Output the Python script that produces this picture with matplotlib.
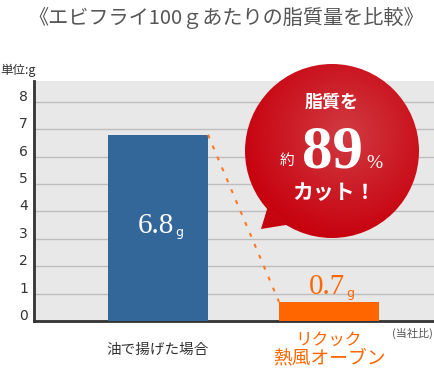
import numpy as np
import matplotlib
matplotlib.use('Agg')
import matplotlib.pyplot as plt
from matplotlib.patches import Circle, Polygon
from matplotlib.transforms import offset_copy

plt.rcParams['font.family'] = ['Noto Sans CJK JP', 'DejaVu Sans']

# データ
title = '《エビフライ100ｇあたりの脂質量を比較》'
categories = ['油で揚げた場合', 'リクック\n熱風オーブン']
values = [6.8, 0.7]
value_labels = ['6.8', '0.7']
value_unit = 'g'
bar_colors = ['#336699', '#ff6600']
yticks = [0, 1, 2, 3, 4, 5, 6, 7, 8]
unit_label = '単位:g'
note = '(当社比)'
cut_percent = '89'

W, H = 434, 368
fig = plt.figure(figsize=(W / 100, H / 100), dpi=100)
ax = fig.add_axes([34 / W, (H - 321) / H, 400 / W, 240 / H])
ax.set_facecolor('#e8e8e8')

x = np.arange(len(values))
bw = 100 / 171
ax.bar(x, values, width=bw, color=bar_colors, zorder=3)
ax.set_xlim(-0.725, 1.614)
ax.set_ylim(0, 8.76)
ax.set_yticks(yticks)
ax.set_yticklabels([])
ax.set_xticks([])
ax.yaxis.grid(True, color='#bdbdbd', lw=1)
ax.set_axisbelow(True)
ax.tick_params(axis='y', length=0)
for s in ['top', 'right']:
    ax.spines[s].set_visible(False)
for s in ['left', 'bottom']:
    ax.spines[s].set_color('#333333')
    ax.spines[s].set_linewidth(2)

# 目盛りラベル（少し上にずらす）
tick_tr = offset_copy(ax.get_yaxis_transform(), fig, x=-6, y=5, units='dots')
for v in yticks:
    ax.text(0, v, str(v), transform=tick_tr, ha='right', va='center',
            fontsize=10, color='#333333', family='DejaVu Sans')

# 点線でつなぐ
ax.plot([x[0] + bw / 2, x[1] - bw / 2], [values[0], values[1]],
        ls=(0, (1.9, 3.8)), color='#ff7722', lw=1.5, zorder=4)

# 値ラベル
label_y = [values[0] * 0.47, values[1] + 0.3]
label_col = ['white', '#ff6600']
for i in range(len(values)):
    t1 = offset_copy(ax.transData, fig, x=16, y=0, units='dots')
    t2 = offset_copy(ax.transData, fig, x=17, y=-3, units='dots')
    ax.text(x[i], label_y[i], value_labels[i], transform=t1, ha='right', va='baseline',
            fontsize=21, color=label_col[i], family='Liberation Serif', zorder=5)
    ax.text(x[i], label_y[i], value_unit, transform=t2, ha='left', va='baseline',
            fontsize=9, color=label_col[i], family='DejaVu Sans', zorder=5)

# カテゴリラベル
xl = ax.get_xaxis_transform()
ax.text(x[0], -0.121, categories[0], transform=xl, ha='center', va='center',
        fontsize=10.5, color='#333333')
l1, l2 = categories[1].split('\n')
ax.text(x[1], -0.079, l1, transform=xl, ha='center', va='center',
        fontsize=12, color='#ff6600')
ax.text(x[1], -0.154, l2, transform=xl, ha='center', va='center',
        fontsize=13.5, color='#ff6600')

# オーバーレイ（ピクセル座標）
ov = fig.add_axes([0, 0, 1, 1], zorder=5)
ov.set_xlim(0, W)
ov.set_ylim(H, 0)
ov.axis('off')

ov.text(226, 18, title, ha='center', va='center', fontsize=14.5, color='#555555')
ov.text(0, 70, unit_label, ha='left', va='center', fontsize=9, color='#333333')
ov.text(433, 333, note, ha='right', va='center', fontsize=8, color='#555555')

# 吹き出し
cx, cy, r = 332, 151, 87
ov.add_patch(Polygon([(268, 206), (261, 229), (292, 224)], closed=True,
                     color='#c50510', lw=0))
n = 300
gx, gy = np.meshgrid(np.linspace(-1, 1, n), np.linspace(-1, 1, n))
d = np.sqrt((gx - 0.15) ** 2 + (gy + 0.2) ** 2) / 1.25
d = np.clip(d, 0, 1)
c0 = np.array([0.82, 0.23, 0.26])
c1 = np.array([0.78, 0.0, 0.05])
img = c0[None, None, :] * (1 - d[..., None]) + c1[None, None, :] * d[..., None]
im = ov.imshow(img, extent=(cx - r, cx + r, cy + r, cy - r), origin='upper',
               aspect='auto', interpolation='bilinear')
circ = Circle((cx, cy), r, transform=ov.transData, facecolor='none', edgecolor='none')
ov.add_patch(circ)
im.set_clip_path(circ)
ov.set_xlim(0, W)
ov.set_ylim(H, 0)

ov.text(332, 102, '脂質を', ha='center', va='center', fontsize=13,
        color='white', weight='bold')
ov.text(287, 161, '約', ha='center', va='center', fontsize=10.5, color='white')
ov.text(333, 168, cut_percent, ha='center', va='baseline', fontsize=44,
        color='white', family='Liberation Serif', weight='bold')
ov.text(374, 168, '%', ha='center', va='baseline', fontsize=14,
        color='white', family='Liberation Serif')
ov.text(334, 193, 'カット！', ha='center', va='center', fontsize=15,
        color='white', weight='bold')

fig.savefig('out.png', dpi=100)
